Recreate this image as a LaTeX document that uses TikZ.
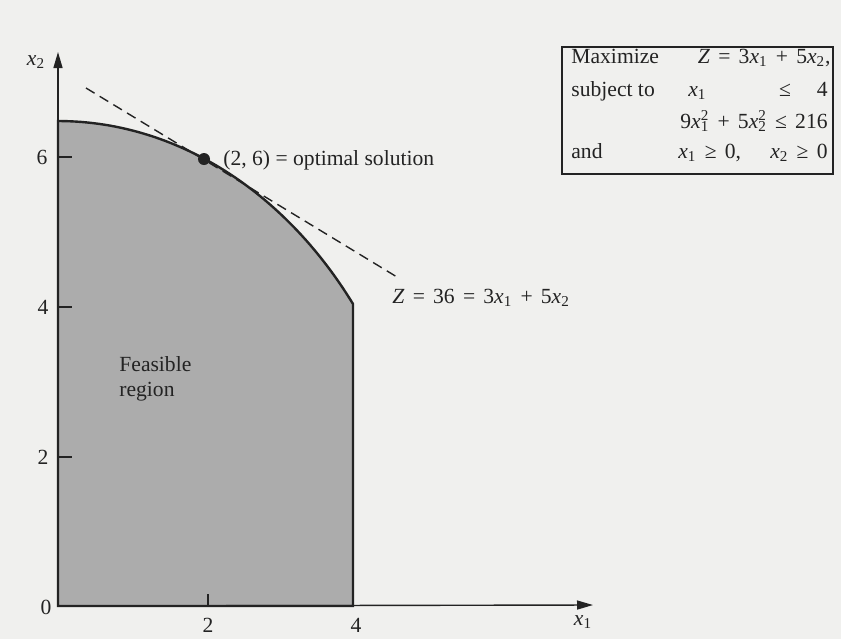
\documentclass[tikz,border=0pt]{standalone}
\usepackage{fontspec}
\setmainfont{Liberation Serif}
\usetikzlibrary{arrows.meta}
\definecolor{bgcol}{RGB}{240,240,238}
\definecolor{regcol}{RGB}{172,172,172}
\definecolor{inkcol}{RGB}{35,35,35}
\newcommand{\xv}[1]{\textit{x}\textsubscript{#1}}
\newcommand{\xsq}[1]{\textit{x}\makebox[0pt][l]{\textsuperscript{2}}\textsubscript{#1}}
\newcommand{\ms}{\hspace{0.38em}}
\tikzset{
  lbl/.style={inner sep=0pt, text=inkcol, font=\fontsize{10.8}{13}\selectfont},
  axisline/.style={draw=inkcol, line width=0.7pt},
  regionborder/.style={draw=inkcol, line width=1.2pt, line join=miter},
  tickmark/.style={draw=inkcol, line width=0.7pt},
  isoline/.style={draw=inkcol, line width=0.7pt, dash pattern=on 5pt off 3pt}
}
\begin{document}
\begin{tikzpicture}[x=0.5pt,y=-0.5pt]
\useasboundingbox (0,0) rectangle (841,639);
\fill[bgcol] (0,0) rectangle (841,639);
% feasible region
\coordinate (o) at (58,606);
\coordinate (top) at (58,121);
\coordinate (br) at (353,606);
\filldraw[fill=regcol, regionborder] (o) -- (top)
  -- plot[domain=90:37.53, samples=60] ({58+372*cos(\x)}, {589-468*sin(\x)})
  -- (br) -- cycle;
% axes
\coordinate (ytip) at (58,52);
\coordinate (xtip) at (593,605);
\draw[axisline, -{Triangle[length=8pt,width=4.5pt]}] (o) -- (ytip);
\draw[axisline, -{Triangle[length=8pt,width=4.5pt]}] (o) -- (xtip);
% ticks
\coordinate (t6) at (58,157); \coordinate (t6e) at (72,157);
\coordinate (t4) at (58,307); \coordinate (t4e) at (72,307);
\coordinate (t2) at (58,457); \coordinate (t2e) at (72,457);
\coordinate (tx2) at (208,606); \coordinate (tx2e) at (208,594);
\draw[tickmark] (t6) -- (t6e);
\draw[tickmark] (t4) -- (t4e);
\draw[tickmark] (t2) -- (t2e);
\draw[tickmark] (tx2) -- (tx2e);
% tick labels
\node[lbl] (l6) at (42,157) {6};
\node[lbl] (l4) at (43,307) {4};
\node[lbl] (l2) at (43,457) {2};
\node[lbl] (l0) at (46,607) {0};
\node[lbl] (lx2) at (208,625) {2};
\node[lbl] (lx4) at (356,625) {4};
\node[lbl] (ax2) at (36,62) {\xv{2}};
\node[lbl] (ax1) at (583,622) {\xv{1}};
% objective line
\coordinate (d1) at (86,88);
\coordinate (d2) at (397,277);
\draw[isoline] (d1) -- (d2);
% optimal point
\node[circle, fill=inkcol, inner sep=0pt, minimum size=6pt] (opt) at (204,159) {};
\node[lbl, anchor=base west] (optlbl) at (223,165) {(2, 6) = optimal solution};
\node[lbl, anchor=base west] (zlbl) at (392,303) {\textit{Z}\ms=\ms36\ms=\ms3\xv{1}\ms+\ms5\xv{2}};
\node[lbl, anchor=base west] (feas1) at (119,371) {Feasible};
\node[lbl, anchor=base west] (feas2) at (119,396) {region};
% model box
\coordinate (b1) at (562,47);
\coordinate (b2) at (833,174);
\draw[draw=inkcol, line width=0.7pt] (b1) rectangle (b2);
\node[lbl, anchor=base west] (m1a) at (571,63) {Maximize};
\node[lbl, anchor=base east] (m1b) at (831,63) {\textit{Z}\ms=\ms3\xv{1}\ms+\ms5\xv{2},};
\node[lbl, anchor=base west] (m2a) at (571,96) {subject to};
\node[lbl, anchor=base west] (m2b) at (688,96) {\xv{1}};
\node[lbl, anchor=base] (m2c) at (785,96) {≤};
\node[lbl, anchor=base east] (m2d) at (828,96) {4};
\node[lbl, anchor=base east] (m3) at (828,128) {9\xsq{1}\ms+\ms5\xsq{2}\ms≤\ms216};
\node[lbl, anchor=base west] (m4a) at (571,158) {and};
\node[lbl, anchor=base west] (m4b) at (678,158) {\xv{1}\ms≥\ms0,};
\node[lbl, anchor=base east] (m4c) at (828,158) {\xv{2}\ms≥\ms0};
\end{tikzpicture}
\end{document}
